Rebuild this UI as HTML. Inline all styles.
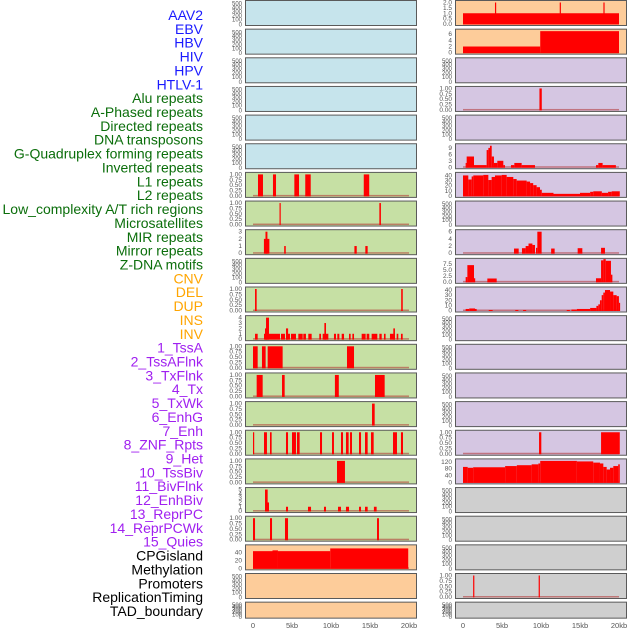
<!DOCTYPE html>
<html><head><meta charset="utf-8">
<style>
html,body{margin:0;padding:0;background:#fff;}
svg{display:block;font-family:"Liberation Sans",sans-serif;}
</style></head>
<body>
<svg id="chart" width="630" height="630" viewBox="0 0 630 630" xmlns="http://www.w3.org/2000/svg"></svg>
<script>
const trackLabels = ["AAV2","EBV","HBV","HIV","HPV","HTLV-1","Alu repeats","A-Phased repeats","Directed repeats","DNA transposons","G-Quadruplex forming repeats","Inverted repeats","L1 repeats","L2 repeats","Low_complexity A/T rich regions","Microsatellites","MIR repeats","Mirror repeats","Z-DNA motifs","CNV","DEL","DUP","INS","INV","1_TssA","2_TssAFlnk","3_TxFlnk","4_Tx","5_TxWk","6_EnhG","7_Enh","8_ZNF_Rpts","9_Het","10_TssBiv","11_BivFlnk","12_EnhBiv","13_ReprPC","14_ReprPCWk","15_Quies","CPGisland","Methylation","Promoters","ReplicationTiming","TAD_boundary"];
const labelGroups = [6,13,5,15,5];
const groupColors = ["#1a1aff","#0b6e0b","#ffa500","#a020f0","#000000"];
const xTicks = [0,5,10,15,20];
const xTickLabels = ["0","5kb","10kb","15kb","20kb"];
const leftBg = ["b","b","b","b","b","b","g","g","g","g","g","g","g","g","g","g","g","g","g","o","o","o"];
const rightBg = ["o","o","p","p","p","p","p","p","p","p","p","p","p","p","p","p","p","y","y","y","y","y"];
const leftYmax = [null,null,null,null,null,null,1,1,3,null,1,4,1,1,1,1,1,5,1,55,null,null];
const rightYmax = [2,7,null,1,null,10,42,null,6,9,42,null,null,null,null,1,125,null,null,null,1,null];
const leftTicks = [[],[],[],[],[],[],["0.00","0.25","0.50","0.75","1.00"],["0.00","0.25","0.50","0.75","1.00"],["0","1","2","3"],[],["0.00","0.25","0.50","0.75","1.00"],["0","1","2","3","4"],["0.00","0.25","0.50","0.75","1.00"],["0.00","0.25","0.50","0.75","1.00"],["0.00","0.25","0.50","0.75","1.00"],["0.00","0.25","0.50","0.75","1.00"],["0.00","0.25","0.50","0.75","1.00"],["0","1","2","3","4","5"],["0.00","0.25","0.50","0.75","1.00"],["0","20","40"],[],[]];
const rightTicks = [["0.0","0.5","1.0","1.5","2.0"],["0","2","4","6"],[],["0.00","0.25","0.50","0.75","1.00"],[],["0","3","6","9"],["0","10","20","30","40"],[],["0","2","4","6"],["0.0","2.5","5.0","7.5"],["0","10","20","30","40"],[],[],[],[],["0.00","0.25","0.50","0.75","1.00"],["0","40","80","120"],[],[],[],["0.00","0.25","0.50","0.75","1.00"],[]];
const leftBars = {
6:[[0.64,1.28,1],[2.56,2.95,1],[5.3,5.9,1],[6.7,7.4,1],[14.2,14.9,1]],
7:[[3.4,3.55,1],[16.2,16.4,1]],
8:[[1.4,2.1,2],[1.6,1.85,3],[4.0,4.2,1],[13.0,13.3,1],[14.4,14.7,1]],
10:[[0.26,0.47,1],[19.0,19.2,1]],
11:[[0.26,0.6,1],[1.41,3.46,1],[1.54,1.75,2],[1.67,2.05,4],[3.59,4.1,1],[4.23,4.74,1],[4.23,4.5,2],[4.87,5.51,1],[5.81,6.37,1],[6.45,6.79,1],[7.09,7.52,1],[8.5,8.72,1],[8.93,9.66,1],[9.15,9.36,3],[10.38,10.64,1],[10.81,11.07,1],[11.37,11.67,1],[12.31,12.52,1],[12.74,12.95,1],[13.93,14.44,1],[14.57,14.91,1],[15.21,15.94,1],[16.2,16.5,1],[16.79,17.0,1],[17.56,18.2,1],[17.99,18.2,2],[18.42,18.63,1],[18.97,19.19,1]],
12:[[0,0.6,1],[1.15,1.62,1],[1.88,3.8,1],[12.05,12.95,1]],
13:[[0.47,1.24,1],[3.72,4.06,1],[10.5,11.0,1],[15.64,16.88,1]],
14:[[15.26,15.6,1]],
15:[[0,0.15,1],[1.41,1.79,1],[2.18,2.39,1],[4.23,4.49,1],[5.0,5.51,1],[5.64,5.98,1],[8.59,8.85,1],[10.13,10.38,1],[11.28,11.54,1],[11.92,12.26,1],[12.44,12.69,1],[13.59,13.85,1],[14.36,14.7,1],[15.13,15.47,1],[17.95,18.46,1],[18.97,19.23,1]],
16:[[10.77,11.79,1]],
17:[[1.54,1.88,5],[1.75,2.05,2],[4.23,4.49,1],[7.05,7.44,1],[9.1,9.36,1],[10.9,11.28,1],[11.92,12.31,1],[13.59,13.85,1],[14.36,14.7,1],[15.5,15.85,1]],
18:[[0,0.26,1],[2.18,2.44,1],[4.1,4.49,1],[15.9,16.15,1]],
19:[[0,2.5,44],[2.5,3.2,46],[3.2,9.9,44],[9.9,19.9,51]]
};
const rightBars = {
0:[[0,20,1],[4.1,4.25,2],[12.4,12.55,2],[18.0,18.15,2]],
1:[[0,9.9,2],[9.9,20,7]],
3:[[9.8,10.1,1]],
5:[[0.34,0.47,2],[0.47,1.41,5],[1.41,3.03,1],[3.03,3.25,8],[3.25,3.46,9],[3.46,3.68,10],[3.68,3.97,5],[3.97,4.4,2],[4.4,5.17,3],[5.17,5.38,1],[6.15,6.58,1],[6.58,7.52,2],[7.52,9.23,1],[17.05,17.35,1],[17.35,17.9,2],[17.9,19.6,1]],
6:[[0,0.68,40],[0.68,1.11,32],[1.11,1.32,38],[1.32,2.6,40],[2.6,3.25,41],[3.25,3.67,31],[3.67,4.1,37],[4.1,4.96,40],[4.96,5.6,41],[5.6,6.45,37],[6.45,6.88,33],[6.88,8.16,30],[8.16,8.6,28],[8.6,9.0,25],[9.0,9.44,21],[9.44,9.87,17],[9.87,10.1,12],[10.1,11.6,6],[11.6,15.0,4],[15.0,16.3,6],[16.3,16.7,8],[16.7,17.8,9],[17.8,18.6,6],[18.6,19.06,8],[19.06,20.1,9]],
8:[[6.54,7.14,1.3],[7.56,8.03,1.4],[8.03,8.4,2],[8.4,8.9,2.7],[8.9,9.23,2.3],[9.36,9.53,1.5],[9.53,10.08,6],[11.3,11.75,1.3],[14.7,15.3,1.4],[17.7,18.2,1.5]],
9:[[0.34,0.56,2],[0.56,1.41,7],[1.41,1.54,1.5],[3.12,4.32,1.4],[17.05,17.7,1.5],[17.7,18.0,9],[18.0,18.3,9.5],[18.3,18.97,8.8],[18.97,19.15,3]],
10:[[0.34,0.8,3],[0.8,1.54,4],[1.54,1.75,3],[3.3,3.8,1],[6.7,7.1,1],[7.7,8.1,1],[13.3,13.7,1],[13.9,14.6,2],[14.6,16.3,3],[16.3,17.1,5],[17.1,17.35,9],[17.35,17.56,12],[17.56,17.78,20],[17.78,17.99,30],[17.99,18.2,35],[18.2,18.85,40],[18.85,19.27,37],[19.27,19.7,30],[19.7,19.99,28],[19.99,20.1,15]],
15:[[9.75,10.04,1],[17.7,20.1,1]],
16:[[0,0.6,90],[0.6,1.3,85],[1.3,5.4,88],[5.4,6.9,95],[6.9,8.8,100],[8.8,9.66,105],[9.66,9.9,110],[9.9,14.6,125],[14.6,16.7,122],[16.7,17.56,115],[17.56,17.99,110],[17.99,18.42,90],[18.42,18.85,75],[18.85,19.27,85],[19.27,19.9,95],[19.9,20.1,105]],
20:[[1.3,1.45,1],[9.7,9.85,1]]
};
const emptyTicks = ["0","100","200","300","400","500"];

const svg = document.getElementById('chart');
const NS = "http://www.w3.org/2000/svg";
const bgColors = {b:"#c6e4ec",g:"#c6e0a4",o:"#fdcc9a",p:"#d5c6e2",y:"#cfcfcf"};
function mk(tag, attrs){const e=document.createElementNS(NS,tag);for(const k in attrs)e.setAttribute(k,attrs[k]);return e;}

let li=0;
labelGroups.forEach((n,g)=>{
  for(let j=0;j<n;j++){
    const t=mk('text',{x:203,y:20+li*13.86,'text-anchor':'end','font-size':14,fill:groupColors[g]});
    
    
    t.textContent=trackLabels[li];svg.appendChild(t);li++;
  }
});

function panelTop(i){return i*28.65;}
function panelH(i){return i===21?16:25;}

function drawColumn(side, x0, bgs, ymaxs, ticks, bars){
  const xs = kb => x0 + 8 + kb*7.8;
  for(let i=0;i<22;i++){
    const top=panelTop(i)+0.5, h=panelH(i);
    const g=mk('g',{});
    
    
    svg.appendChild(g);
    const r=mk('rect',{x:x0+0.5,y:top,width:171,height:h,fill:bgColors[bgs[i]],stroke:'#5a5a5a','stroke-width':1});
    
    
    g.appendChild(r);
    const ymax=ymaxs[i];
    if(ymax===null){
      const fr=[0,0.22,0.4,0.6,0.78,0.95];
      emptyTicks.forEach((lab,k)=>{
        const t=mk('text',{x:x0-3,y:top+h-1-fr[k]*(h-3)+2,'text-anchor':'end','font-size':6,fill:'#555'});
        
        
        t.textContent=lab;g.appendChild(t);
      });
      continue;
    }
    const ys = v => top+h-1.5 - v/ymax*(h-3.5);
    ticks[i].forEach(lab=>{
      const v=parseFloat(lab);
      const t=mk('text',{x:x0-3,y:ys(v)+2,'text-anchor':'end','font-size':6.5,fill:'#555'});
      
      
      t.textContent=lab;g.appendChild(t);
    });
    const bl=mk('rect',{x:xs(0),y:ys(0)-1,width:xs(20)-xs(0),height:1.5,fill:'#b03030',opacity:0.55});
    
    
    g.appendChild(bl);
    (bars[i]||[]).forEach(b=>{
      const y=ys(b[2]);
      const rr=mk('rect',{x:xs(b[0]),y:y,width:Math.max(1.2,xs(b[1])-xs(b[0])),height:ys(0)-y+0.5,fill:'#ff0000'});
      
      
      g.appendChild(rr);
    });
  }
  xTicks.forEach((v,k)=>{
    const t=mk('text',{x:xs(v),y:628,'text-anchor':'middle','font-size':7.5,fill:'#555'});
    
    
    t.textContent=xTickLabels[k];svg.appendChild(t);
  });
}
drawColumn('left',245,leftBg,leftYmax,leftTicks,leftBars);
drawColumn('right',455,rightBg,rightYmax,rightTicks,rightBars);
</script>
</body></html>
